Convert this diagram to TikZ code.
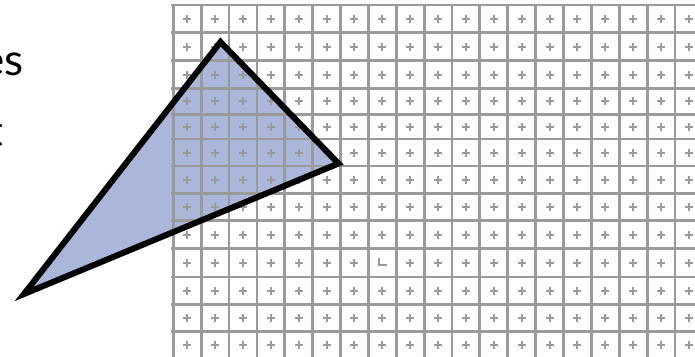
\documentclass[tikz,border=0pt]{standalone}
\usepackage{fontspec}
\setmainfont{Lato}
\usetikzlibrary{positioning}
\definecolor{gridgray}{HTML}{9A9A9A}
\definecolor{trifill}{HTML}{AAB6DA}
\begin{document}
\begin{tikzpicture}[x=1pt,y=-1pt,
  gl/.style={line width=2.8pt,gridgray},
  pl/.style={line width=2pt,gridgray},
  tri/.style={line width=6pt,black,line join=miter},
  lbl/.style={anchor=base east,inner sep=0pt,font=\fontsize{44}{50}\selectfont}]
\clip (0,0) rectangle (695,356);
\def\gx{173.3}
\def\cw{27.87}
% cut-off words at the left
\node[lbl] (es) at (23.5,75) {es};
\node[lbl] (t) at (3.5,146) {t};
% triangle
\coordinate (apex) at (220.5,42);
\coordinate (rtip) at (338.5,163.5);
\coordinate (ltip) at (24,294);
\fill[trifill] (apex) -- (rtip) -- (ltip) -- cycle;
% pixel grid
\foreach \k in {0,...,19}
  \draw[gl] (\gx+\k*\cw,5) -- (\gx+\k*\cw,360);
\foreach \y/\yn [count=\r] in {5/32.7,32.7/60.7,60.7/88.3,88.3/114.5,114.5/139,139/166,166/193.3,
    193.3/220.7,220.7/248.5,248.5/277,277/304.3,304.3/331.7,331.7/359}{
  \draw[gl] (171,\y) -- (700,\y);
  \foreach \k in {0,...,18}{
    \pgfmathsetmacro{\cx}{\gx+\k*\cw+\cw/2}
    \pgfmathsetmacro{\cy}{(\y+\yn)/2}
    \pgfmathtruncatemacro{\odd}{(\r==10)&&(\k==7)}
    \ifnum\odd=0
      \draw[pl] (\cx-4,\cy) -- (\cx+4,\cy) (\cx,\cy-4) -- (\cx,\cy+4);
    \fi
  }
}
% odd cell
\draw[pl] (379,258) -- (379,265) -- (387,265);
% outline on top
\draw[tri] (apex) -- (rtip) -- (ltip) -- cycle;
\end{tikzpicture}
\end{document}
